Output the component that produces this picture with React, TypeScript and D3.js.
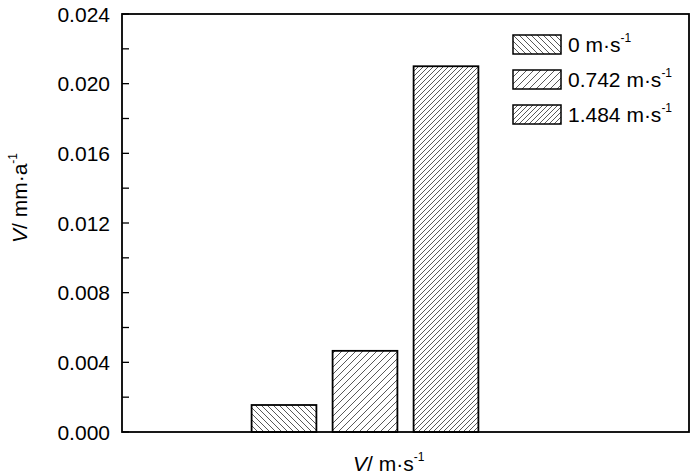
import React from "react";
import * as d3 from "d3";

const categories = ["0", "0.742", "1.484"];
const values = [0.00155, 0.00466, 0.021];
const legendLabels = ["0 m·s", "0.742 m·s", "1.484 m·s"];
const yTicks = [0, 0.004, 0.008, 0.012, 0.016, 0.02, 0.024];
const yMinorTicks = [0.002, 0.006, 0.01, 0.014, 0.018, 0.022];

const W = 700, H = 476;
const L = 122, R = 689, T = 14, B = 432;
const font = "'Liberation Sans', Arial, sans-serif";

const patterns = [
  { id: "hatch0", size: 6, dir: "back" },
  { id: "hatch1", size: 7, dir: "fwd" },
  { id: "hatch2", size: 5, dir: "fwd" },
];

const hs = "#222";
const hw = 0.75;

export default function App() {
  const y = d3.scaleLinear().domain([0, 0.024]).range([B, T]);
  const x = d3.scaleLinear().domain([0, 7]).range([L, R]);
  const bw = (x(1) - x(0)) * 0.8;
  const fmt = d3.format(".3f");

  return (
    <svg width={W} height={H} style={{ position: "absolute", left: 0, top: 0 }}>
      <defs>
        {patterns.map((p) => (
          <pattern key={p.id} id={p.id} width={p.size} height={p.size} patternUnits="userSpaceOnUse">
            {p.dir === "fwd" ? (
              <>
                <line x1={0} y1={p.size} x2={p.size} y2={0} stroke={hs} strokeWidth={hw} />
                <line x1={-1} y1={1} x2={1} y2={-1} stroke={hs} strokeWidth={hw} />
                <line x1={p.size - 1} y1={p.size + 1} x2={p.size + 1} y2={p.size - 1} stroke={hs} strokeWidth={hw} />
              </>
            ) : (
              <>
                <line x1={0} y1={0} x2={p.size} y2={p.size} stroke={hs} strokeWidth={hw} />
                <line x1={-1} y1={p.size - 1} x2={1} y2={p.size + 1} stroke={hs} strokeWidth={hw} />
                <line x1={p.size - 1} y1={-1} x2={p.size + 1} y2={1} stroke={hs} strokeWidth={hw} />
              </>
            )}
          </pattern>
        ))}
      </defs>
      <rect x={0} y={0} width={W} height={H} fill="#fff" />

      {values.map((v, i) => (
        <rect
          key={categories[i]}
          x={x(i + 2) - bw / 2}
          y={y(v)}
          width={bw}
          height={y(0) - y(v)}
          fill={`url(#${patterns[i].id})`}
          stroke="#000"
          strokeWidth={1.8}
        />
      ))}

      <rect x={L} y={T} width={R - L} height={B - T} fill="none" stroke="#000" strokeWidth={1.8} />

      {yTicks.map((t) => (
        <g key={t}>
          <line x1={L} x2={L + 7} y1={y(t)} y2={y(t)} stroke="#000" strokeWidth={1.3} />
          <text x={110} y={y(t)} textAnchor="end" dominantBaseline="central" fontFamily={font} fontSize={21}>
            {fmt(t)}
          </text>
        </g>
      ))}
      {yMinorTicks.map((t) => (
        <line key={t} x1={L} x2={L + 7} y1={y(t)} y2={y(t)} stroke="#000" strokeWidth={1.3} />
      ))}

      {legendLabels.map((lab, i) => (
        <g key={lab} transform={`translate(513, ${35 + i * 35})`}>
          <rect x={0} y={0} width={48} height={19} fill={`url(#${patterns[i].id})`} stroke="#000" strokeWidth={1.5} />
          <text x={55} y={17} fontFamily={font} fontSize={21}>
            {lab}
            <tspan dy={-10} fontSize={12}>-1</tspan>
          </text>
        </g>
      ))}

      <text transform="translate(27, 198) rotate(-90)" textAnchor="middle" fontFamily={font} fontSize={21}>
        <tspan fontStyle="italic">V</tspan>/ mm·a
        <tspan dy={-10} fontSize={12}>-1</tspan>
      </text>

      <text x={353} y={471} fontFamily={font} fontSize={21}>
        <tspan fontStyle="italic">V</tspan>/ m·s
        <tspan dy={-10} fontSize={12}>-1</tspan>
      </text>
    </svg>
  );
}
